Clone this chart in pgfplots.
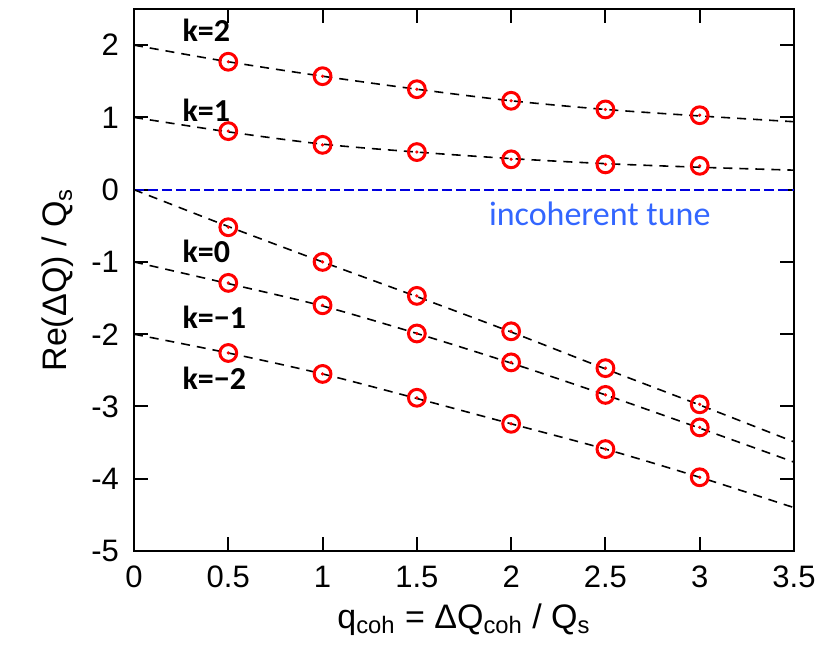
\documentclass[border=0pt]{standalone}
\usepackage{pgfplots}
\pgfplotsset{compat=1.18}
\usepackage{fontspec}
\setmainfont{Liberation Sans}
\newfontfamily\calfont{Carlito}
\definecolor{tuneblue}{HTML}{0000E0}
\definecolor{textblue}{HTML}{3366FF}

\begin{document}
\begin{tikzpicture}
\begin{axis}[
    scale only axis,
    width=330pt, height=271pt,
    xmin=0, xmax=3.5, ymin=-5, ymax=2.5,
    xtick={0,0.5,...,3.5},
    xticklabels={0,0.5,1,1.5,2,2.5,3,3.5},
    ytick={-5,-4,...,2},
    /pgf/number format/assume math mode=true,
    tick label style={font=\fontsize{15.5}{17}\selectfont},
    label style={font=\fontsize{17}{19}\selectfont},
    axis line style={line width=1.3pt},
    major tick style={line width=1pt, black},
    major tick length=7pt,
    tick align=inside,
    xticklabel style={yshift=-4pt},
    yticklabel style={xshift=-4pt},
    xlabel={q\textsubscript{coh} = ΔQ\textsubscript{coh} / Q\textsubscript{s}},
    ylabel={Re(ΔQ) / Q\textsubscript{s}},
    xlabel style={yshift=-1pt},
    ylabel style={yshift=2pt},
    clip=true,
]
% incoherent tune
\addplot[tuneblue, line width=1.1pt, dash pattern=on 5pt off 2pt] coordinates {(0,0) (3.5,0)};

% theory curves
\pgfplotsset{theory/.style={black, line width=0.8pt, dash pattern=on 4.5pt off 3.5pt, smooth}}
\addplot[theory] coordinates {(0,2) (0.5,1.77) (1,1.57) (1.5,1.39) (2,1.23) (2.5,1.11) (3,1.02) (3.5,0.94)};
\addplot[theory] coordinates {(0,1) (0.5,0.80) (1,0.63) (1.5,0.52) (2,0.43) (2.5,0.36) (3,0.31) (3.5,0.27)};
\addplot[theory] coordinates {(0,0) (0.5,-0.51) (1,-1.00) (1.5,-1.48) (2,-1.97) (2.5,-2.48) (3,-2.98) (3.5,-3.49)};
\addplot[theory] coordinates {(0,-1) (0.5,-1.30) (1,-1.61) (1.5,-1.99) (2,-2.40) (2.5,-2.84) (3,-3.30) (3.5,-3.77)};
\addplot[theory] coordinates {(0,-2) (0.5,-2.26) (1,-2.55) (1.5,-2.89) (2,-3.24) (2.5,-3.59) (3,-3.98) (3.5,-4.40)};

% simulation points
\pgfplotsset{sim/.style={only marks, mark=o, mark size=4.2pt, red, mark options={line width=1.5pt}}}
\pgfplotsset{simdot/.style={only marks, mark=*, mark size=0.6pt, red}}
\addplot[sim] coordinates {(0.5,1.77) (1,1.57) (1.5,1.39) (2,1.23) (2.5,1.11) (3,1.03)};
\addplot[sim] coordinates {(0.5,0.81) (1,0.62) (1.5,0.52) (2,0.42) (2.5,0.35) (3,0.33)};
\addplot[sim] coordinates {(0.5,-0.52) (1,-1.00) (1.5,-1.47) (2,-1.96) (2.5,-2.47) (3,-2.97)};
\addplot[sim] coordinates {(0.5,-1.29) (1,-1.60) (1.5,-1.99) (2,-2.39) (2.5,-2.84) (3,-3.29)};
\addplot[sim] coordinates {(0.5,-2.26) (1,-2.55) (1.5,-2.88) (2,-3.24) (2.5,-3.59) (3,-3.98)};
\addplot[simdot] coordinates {(0.5,1.77) (1,1.57) (1.5,1.39) (2,1.23) (2.5,1.11) (3,1.03)};
\addplot[simdot] coordinates {(0.5,0.81) (1,0.62) (1.5,0.52) (2,0.42) (2.5,0.35) (3,0.33)};
\addplot[simdot] coordinates {(0.5,-0.52) (1,-1.00) (1.5,-1.47) (2,-1.96) (2.5,-2.47) (3,-2.97)};
\addplot[simdot] coordinates {(0.5,-1.29) (1,-1.60) (1.5,-1.99) (2,-2.39) (2.5,-2.84) (3,-3.29)};
\addplot[simdot] coordinates {(0.5,-2.26) (1,-2.55) (1.5,-2.88) (2,-3.24) (2.5,-3.59) (3,-3.98)};

\node[anchor=west, font=\calfont\bfseries\fontsize{16}{18}\selectfont] at (axis cs:0.22,2.21) {k=2};
\node[anchor=west, font=\calfont\bfseries\fontsize{16}{18}\selectfont] at (axis cs:0.22,1.10) {k=1};
\node[anchor=west, font=\calfont\bfseries\fontsize{16}{18}\selectfont] at (axis cs:0.22,-0.86) {k=0};
\node[anchor=west, font=\calfont\bfseries\fontsize{16}{18}\selectfont] at (axis cs:0.22,-1.76) {k=−1};
\node[anchor=west, font=\calfont\bfseries\fontsize{16}{18}\selectfont] at (axis cs:0.22,-2.61) {k=−2};
\node[text=textblue, font=\calfont\fontsize{17}{19}\selectfont] at (axis cs:2.47,-0.33) {incoherent tune};
\end{axis}
\path ([shift={(-67pt,-50pt)}]current axis.south west) rectangle ([shift={(349pt,275.5pt)}]current axis.south west);
\end{tikzpicture}
\end{document}
